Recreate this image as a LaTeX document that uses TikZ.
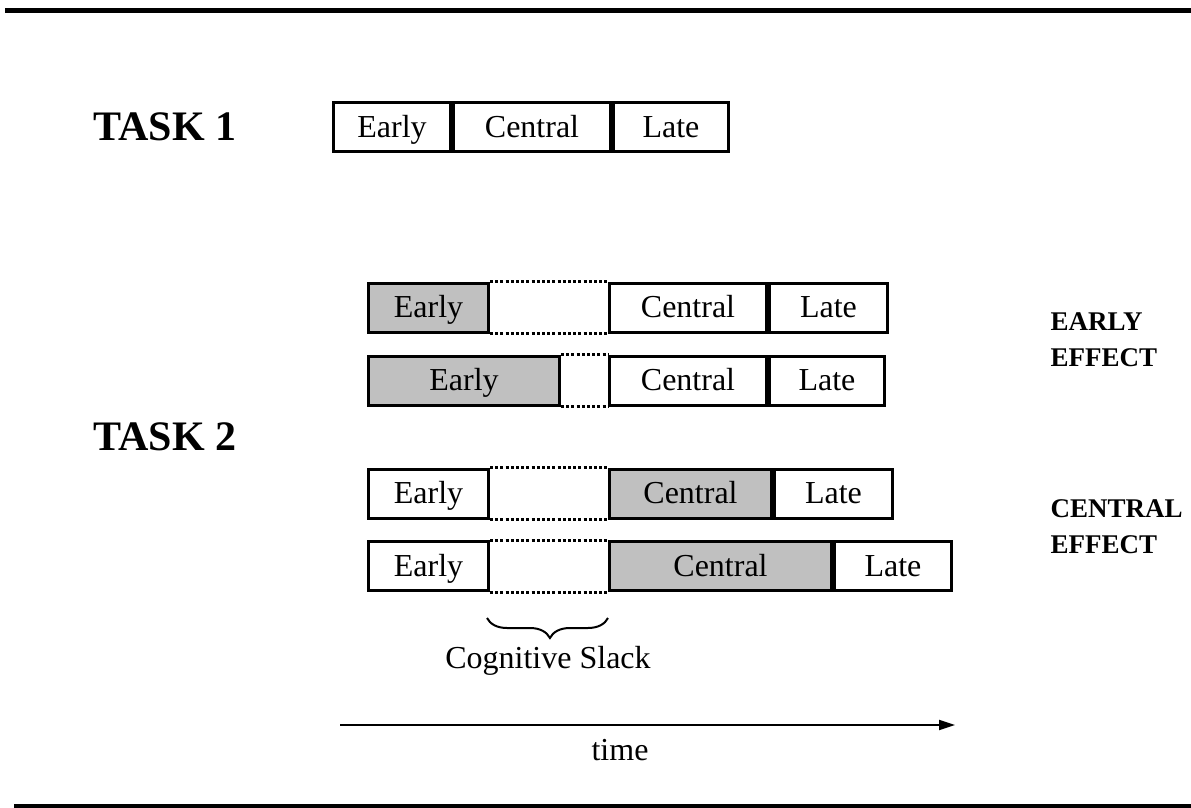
\documentclass[tikz,border=0pt]{standalone}
\usepackage{fontspec}
\setmainfont{Liberation Serif}
\usetikzlibrary{arrows.meta,decorations.pathreplacing}
\definecolor{shade}{RGB}{192,192,192}
\begin{document}
\begin{tikzpicture}[x=1pt,y=-1pt,
  seg/.style={draw,line width=3pt,minimum height=49pt,inner sep=0pt,anchor=west,
    text height=20pt,text depth=0pt,font=\fontsize{32}{38}\selectfont},
  hi/.style={fill=shade},
  gapline/.style={line width=3pt,dash pattern=on 3pt off 2.2pt},
  tasklabel/.style={font=\fontsize{42}{48}\selectfont\bfseries},
  efflabel/.style={font=\fontsize{27}{36}\selectfont\bfseries,align=left,anchor=west},
  plain/.style={font=\fontsize{32}{38}\selectfont}
]
\useasboundingbox (0,0) rectangle (1191,808);
% rules
\draw[line width=5.5pt] (5,10.5) -- (1191,10.5);
\draw[line width=4pt] (14,806) -- (1191,806);

% TASK 1
\node[tasklabel] (task1) at (165,127) {TASK 1};
\node[seg,minimum width=117pt] (t1e) at (332,127) {Early};
\node[seg,minimum width=157pt] (t1c) at (t1e.east) {Central};
\node[seg,minimum width=115pt] (t1l) at (t1c.east) {Late};

% TASK 2
\node[tasklabel] (task2) at (165,437) {TASK 2};

% row 1
\node[seg,hi,minimum width=120pt] (r1e) at (367,307.5) {Early};
\node[seg,minimum width=157pt] (r1c) at (608,307.5) {Central};
\node[seg,minimum width=118pt] (r1l) at (r1c.east) {Late};
\draw[gapline] (r1e.north east) -- (r1c.north west);
\draw[gapline] (r1e.south east) -- (r1c.south west);

% row 2
\node[seg,hi,minimum width=191pt] (r2e) at (367,380.5) {Early};
\node[seg,minimum width=157pt] (r2c) at (608,380.5) {Central};
\node[seg,minimum width=115pt] (r2l) at (r2c.east) {Late};
\draw[gapline] (r2e.north east) -- (r2c.north west);
\draw[gapline] (r2e.south east) -- (r2c.south west);

% row 3
\node[seg,minimum width=120pt] (r3e) at (367,493.5) {Early};
\node[seg,hi,minimum width=162pt] (r3c) at (608,493.5) {Central};
\node[seg,minimum width=118pt] (r3l) at (r3c.east) {Late};
\draw[gapline] (r3e.north east) -- (r3c.north west);
\draw[gapline] (r3e.south east) -- (r3c.south west);

% row 4
\node[seg,minimum width=120pt] (r4e) at (367,566) {Early};
\node[seg,hi,minimum width=222pt] (r4c) at (608,566) {Central};
\node[seg,minimum width=117pt] (r4l) at (r4c.east) {Late};
\draw[gapline] (r4e.north east) -- (r4c.north west);
\draw[gapline] (r4e.south east) -- (r4c.south west);

% effect labels
\node[efflabel] (eff1) at (1047,340) {EARLY\\EFFECT};
\node[efflabel] (eff2) at (1047,527) {CENTRAL\\EFFECT};

% cognitive slack brace
\coordinate (bl) at (487,618);
\coordinate (br) at (608,618);
\draw[line width=2pt,decorate,decoration={brace,mirror,amplitude=20pt,aspect=0.52}] (bl) -- (br);
\node[plain,anchor=north] (slack) at (548,643) {Cognitive Slack};

% time arrow
\coordinate (ts) at (340,725);
\coordinate (te) at (955,725);
\draw[line width=2pt,-{Stealth[length=16pt,width=10pt,inset=0pt]}] (ts) -- (te);
\node[plain] (time) at (620,750) {time};
\end{tikzpicture}
\end{document}
